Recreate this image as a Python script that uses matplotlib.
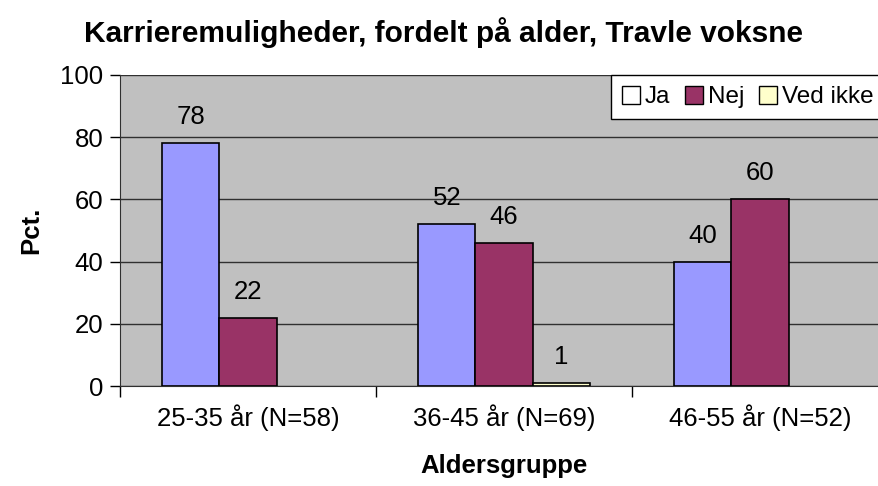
import numpy as np
import matplotlib.pyplot as plt
from matplotlib.patches import Patch

plt.rcParams['font.family'] = ['Liberation Sans', 'DejaVu Sans']

# data
groups = ["25-35 år (N=58)", "36-45 år (N=69)", "46-55 år (N=52)"]
series = ["Ja", "Nej", "Ved ikke"]
ja = [78, 52, 40]
nej = [22, 46, 60]
ved_ikke = [0, 1, 0]
colors = ["#9999FF", "#993366", "#FFFFCC"]
legend_colors = ["#FFFFFF", "#993366", "#FFFFCC"]

W, H = 879, 486
fig = plt.figure(figsize=(W / 100, H / 100), dpi=100)
ax = fig.add_axes([120 / W, (H - 386) / H, 768 / W, 311 / H])
ax.set_facecolor("#C0C0C0")

fs = 18.5

x = np.arange(len(groups))
bw = 0.223
for i, (vals, c) in enumerate(zip([ja, nej, ved_ikke], colors)):
    pos = x + (i - 1) * bw
    for xp, v in zip(pos, vals):
        if v == 0:
            continue
        ax.bar(xp, v, width=bw, color=c, edgecolor="black", linewidth=1.2, zorder=3)
        ax.text(xp, v + 4.5, str(v), ha="center", va="bottom", fontsize=fs, zorder=4)

ax.set_xlim(-0.5, 2.5)
ax.set_ylim(0, 100)
ax.set_yticks(range(0, 101, 20))
ax.yaxis.grid(True, color="#303030", linewidth=1, zorder=0)
ax.set_axisbelow(True)
ax.tick_params(axis="y", labelsize=fs, length=7, width=1, direction="out", pad=5)

ax.set_xticks(x)
ax.set_xticklabels(groups)
ax.set_xticks(np.arange(-0.5, 2.6, 1), minor=True)
ax.tick_params(axis="x", which="major", length=0, labelsize=fs, pad=13)
ax.tick_params(axis="x", which="minor", length=8, width=1)

for s in ["top", "right"]:
    ax.spines[s].set_visible(False)
ax.spines["left"].set_color("#303030")
ax.spines["bottom"].set_color("#303030")

ax.set_ylabel("Pct.", fontsize=fs, fontweight="bold", labelpad=12)
ax.set_xlabel("Aldersgruppe", fontsize=fs, fontweight="bold", labelpad=17)

fig.text(0.505, 1 - 33 / H, "Karrieremuligheder, fordelt på alder, Travle voksne",
         ha="center", va="center", fontsize=21.5, fontweight="bold")

handles = [Patch(facecolor=c, edgecolor="black", linewidth=1) for c in legend_colors]
leg = ax.legend(handles, series, loc="upper left", ncol=3, fontsize=17.5, frameon=True,
                fancybox=False, edgecolor="black", framealpha=1,
                handlelength=0.75, handleheight=0.75, handletextpad=0.2,
                columnspacing=0.6, borderpad=0.45, borderaxespad=0)
leg.set_bbox_to_anchor((611 / W, 1 - 75 / H), transform=fig.transFigure)
leg.get_frame().set_linewidth(1)

fig.savefig("out.png", dpi=100)
